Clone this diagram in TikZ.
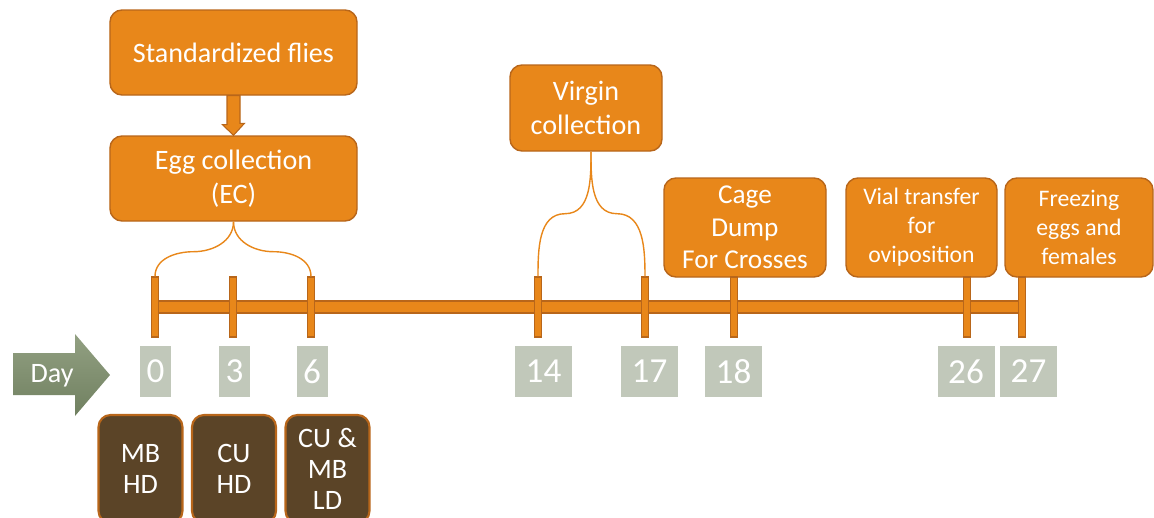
\documentclass[tikz,border=0pt]{standalone}
\usepackage{fontspec}
\setmainfont{Carlito}
\definecolor{orng}{RGB}{232,135,26}
\definecolor{orngdark}{RGB}{184,102,26}
\definecolor{daygray}{RGB}{193,200,186}
\definecolor{mudbrown}{RGB}{91,68,39}
\definecolor{sagelight}{RGB}{146,160,130}
\definecolor{sagedark}{RGB}{112,128,96}
\begin{document}
\begin{tikzpicture}[x=0.2cm,y=-0.2cm,
        stage/.style={rounded corners=0.24cm, fill=orng, draw=orngdark, line width=0.8pt,
            text=white, align=center, inner sep=0pt},
        big/.style={font=\fontsize{16}{19}\selectfont},
        mid/.style={font=\fontsize{15.5}{18.5}\selectfont},
        small/.style={font=\fontsize{13.5}{16.5}\selectfont},
        tick/.style={fill=orng, draw=orngdark, line width=0.6pt, minimum width=0.14cm,
            minimum height=1.2cm, inner sep=0pt},
        daynum/.style={fill=daygray, text=white, minimum height=1.02cm, inner sep=0pt,
            font=\fontsize{20}{22}\selectfont},
        group/.style={rounded corners=0.24cm, fill=mudbrown, draw=orngdark, line width=1.2pt,
            text=white, align=center, minimum width=1.68cm, minimum height=2.16cm,
            inner sep=0pt, font=\fontsize{16}{17.6}\selectfont},
        brace/.style={draw=orng, line width=0.8pt}]
        \useasboundingbox (0,0) rectangle (115.4,51.7);

        % boxes above the time line
        \node[stage,big,minimum width=4.94cm,minimum height=1.7cm] (std) at (23.35,5.25) {Standardized flies};
        \node[stage,big,minimum width=4.94cm,minimum height=1.7cm] (egg) at (23.35,17.85) {Egg collection\\(EC)};
        \node[stage,big,minimum width=3.04cm,minimum height=1.72cm] (virgin) at (58.6,10.8) {Virgin\\collection};
        \node[stage,mid,minimum width=3.24cm,minimum height=1.98cm] (cage) at (74.5,22.75) {Cage\\Dump\\For Crosses};
        \node[stage,small,minimum width=3.02cm,minimum height=1.98cm] (vial) at (92.15,22.75) {Vial transfer\\for\\oviposition};
        \node[stage,small,minimum width=2.96cm,minimum height=1.98cm] (freeze) at (107.9,22.75) {Freezing\\eggs and\\females};

        % fat arrow
        \draw[fill=orng,draw=orngdark,line width=0.6pt] ([xshift=-1.3mm]std.south) -- ++(0,2.9) -- ++(-0.45,0)
            -- (std.south |- egg.north) -- ++(1.1,-1.2) -- ++(-0.45,0) -- ([xshift=1.3mm]std.south) -- cycle;

        % time line
        \coordinate (d0) at (15.5,30.7);
        \coordinate (d27) at (102.2,30.7);
        \fill[orng] ([yshift=0.12cm]d0) rectangle ([yshift=-0.12cm]d27);
        \draw[orngdark,line width=0.6pt] ([yshift=0.12cm]d0) rectangle ([yshift=-0.12cm]d27);

        \node[tick] (t0) at (15.5,30.7) {};
        \node[tick] (t3) at (23.3,30.7) {};
        \node[tick] (t6) at (31.1,30.7) {};
        \node[tick] (t14) at (53.8,30.7) {};
        \node[tick] (t17) at (64.5,30.7) {};
        \node[tick] (t18) at (73.4,30.7) {};
        \node[tick] (t26) at (96.7,30.7) {};
        \node[tick] (t27) at (102.2,30.7) {};

        % braces
        \draw[brace] (egg.south) to[out=-90,in=0] ++(-4,3) to[out=180,in=90] (t0.north);
        \draw[brace] (egg.south) to[out=-90,in=180] ++(4,3) to[out=0,in=90] (t6.north);
        \draw[brace] ([xshift=1mm]virgin.south) to[out=-90,in=0] ++(-2.6,6.2) to[out=180,in=90] (t14.north);
        \draw[brace] ([xshift=1mm]virgin.south) to[out=-90,in=180] ++(2.6,6.2) to[out=0,in=90] (t17.north);

        % day numbers
        \shade[top color=sagelight,bottom color=sagedark] (1.3,35.3) -- (7.5,35.3) -- (7.5,33.4) -- (11.0,37.5)
            -- (7.5,41.6) -- (7.5,39.5) -- (1.3,39.5) -- cycle;
        \node[text=white,font=\fontsize{16}{18}\selectfont] (day) at (5.2,37.6) {Day};

        \node[daynum,minimum width=0.62cm] (n0) at (15.55,37.15) {0};
        \node[daynum,minimum width=0.62cm] (n3) at (23.45,37.15) {3};
        \node[daynum,minimum width=0.62cm] (n6) at (31.2,37.15) {6};
        \node[daynum,minimum width=1.14cm] (n14) at (54.35,37.15) {14};
        \node[daynum,minimum width=1.14cm] (n17) at (64.95,37.15) {17};
        \node[daynum,minimum width=1.14cm] (n18) at (73.35,37.15) {18};
        \node[daynum,minimum width=1.14cm] (n26) at (96.6,37.15) {26};
        \node[daynum,minimum width=1.14cm] (n27) at (102.85,37.15) {27};

        % groups
        \node[group] (g1) at (14.05,46.9) {MB\\HD};
        \node[group] (g2) at (23.4,46.9) {CU\\HD};
        \node[group] (g3) at (32.75,46.9) {CU \&\\MB\\LD};
    \end{tikzpicture}
\end{document}
